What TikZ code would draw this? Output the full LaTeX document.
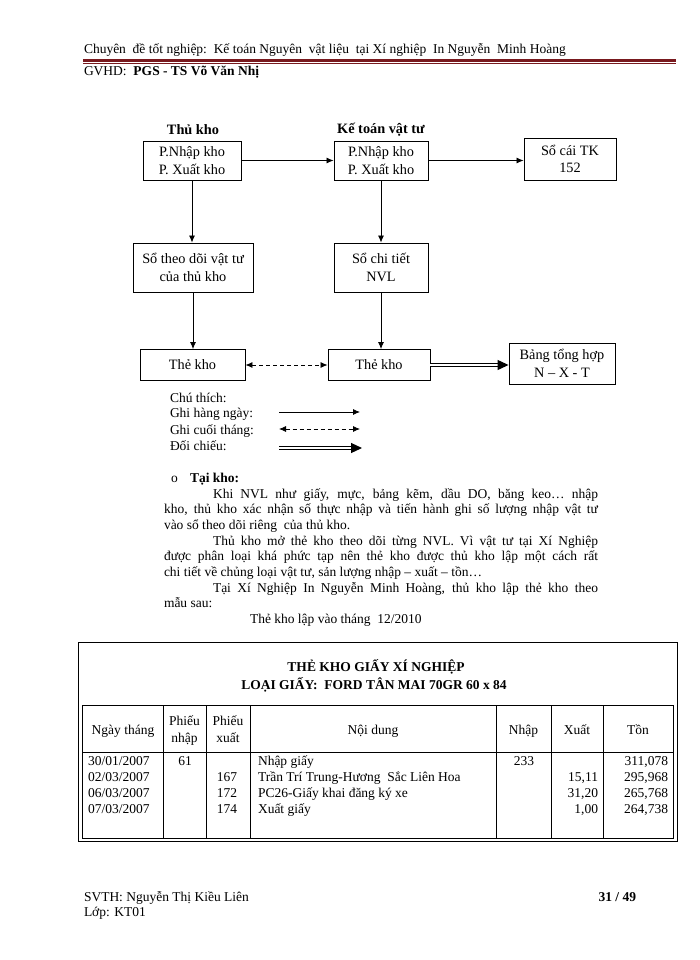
\documentclass[tikz,border=0pt]{standalone}
\usepackage{fontspec}
\setmainfont{Liberation Serif}
\usetikzlibrary{arrows.meta}
\definecolor{hdrred}{RGB}{120,25,30}
\tikzset{
  txt/.style={inner sep=0pt, outer sep=0pt},
  lbl/.style={txt, anchor=base west},
  rlbl/.style={txt, anchor=base east},
  cell/.style={txt, anchor=base},
  box/.style={draw, line width=0.9pt, align=center, inner sep=0pt, font=\fontsize{14.3}{17.5}\selectfont},
  conn/.style={line width=0.8pt, -{Latex[length=7pt,width=6pt]}},
  dconn/.style={line width=0.8pt, dash pattern=on 4pt off 3pt, {Latex[length=7pt,width=6pt]}-{Latex[length=7pt,width=6pt]}},
  tconn/.style={line width=1.2pt, double, double distance=1.1pt, -{Triangle[length=11pt,width=10pt]}},
  grid/.style={line width=0.8pt},
  bold/.style={font=\fontsize{13.5}{16}\selectfont\bfseries},
  dbold/.style={font=\fontsize{14.3}{17}\selectfont\bfseries},
}
\begin{document}
\begin{tikzpicture}[x=1pt,y=-1pt, font=\fontsize{13.5}{16}\selectfont]
\useasboundingbox (0,0) rectangle (700,960);
\fill[white] (0,0) rectangle (700,960);
% header
\node[lbl] (hdr) at (84,54) {Chuyên\ \ đề tốt nghiệp:\ \ Kế toán Nguyên\ \ vật liệu\ \ tại Xí nghiệp\ \ In Nguyễn\ \ Minh Hoàng};
\coordinate (hl1) at (83,60.5);
\coordinate (hr1) at (676,60.5);
\coordinate (hl2) at (83,63.6);
\coordinate (hr2) at (676,63.6);
\draw[hdrred, line width=2.6pt] (hl1) -- (hr1);
\draw[hdrred, line width=0.8pt] (hl2) -- (hr2);
\node[lbl] (gv) at (84,76) {GVHD:\ \ \textbf{PGS - TS Võ Văn Nhị}};
% diagram
\node[txt, dbold] (tk) at (193,130) {Thủ kho};
\node[txt, dbold] (kt) at (381,130) {Kế toán vật tư};
\node[box, minimum width=98pt, minimum height=39pt] (A) at (192,160.5) {P.Nhập kho\\P. Xuất kho};
\node[box, minimum width=94pt, minimum height=39pt] (B) at (381,160.5) {P.Nhập kho\\P. Xuất kho};
\node[box, minimum width=92pt, minimum height=42pt] (C) at (570,159) {Sổ cái TK\\152};
\node[box, minimum width=120pt, minimum height=49pt] (D) at (193,267.5) {Sổ theo dõi vật tư\\của thủ kho};
\node[box, minimum width=94pt, minimum height=49pt] (E) at (381,267.5) {Sổ chi tiết\\NVL};
\node[box, minimum width=105pt, minimum height=31pt] (F) at (192.5,365) {Thẻ kho};
\node[box, minimum width=102pt, minimum height=31pt] (G) at (379,365) {Thẻ kho};
\node[box, minimum width=106pt, minimum height=41pt] (H) at (562,363.5) {Bảng tổng hợp\\N – X - T};
\draw[conn] (A.east) -- (B.west);
\draw[conn] (B.east) -- (B.east -| C.west);
\draw[conn] (A.south) -- (A.south |- D.north);
\draw[conn] (D.south) -- (D.south |- F.north);
\draw[conn] (B.south) -- (E.north);
\draw[conn] (E.south) -- (E.south |- G.north);
\draw[dconn] (F.east) -- (G.west);
\draw[tconn] (G.east) -- (G.east -| H.west);
% legend
\node[lbl] (l0) at (170,402) {Chú thích:};
\node[lbl] (l1) at (170,417.5) {Ghi hàng ngày:};
\node[lbl] (l2) at (170,434) {Ghi cuối tháng:};
\node[lbl] (l3) at (170,450) {Đối chiếu:};
\coordinate (a1s) at (279,412); \coordinate (a1e) at (360,412);
\coordinate (a2s) at (279,429); \coordinate (a2e) at (360,429);
\coordinate (a3s) at (279,448); \coordinate (a3e) at (362,448);
\draw[conn] (a1s) -- (a1e);
\draw[dconn] (a2s) -- (a2e);
\draw[tconn] (a3s) -- (a3e);
% text
\node[lbl] (bul) at (171,482) {o};
\node[lbl, bold] (tai) at (190,482) {Tại kho:};
\node[lbl] (p1) at (213,498) {\makebox[385pt][s]{Khi NVL như giấy, mực, bảng kẽm, dầu DO, băng keo… nhập}};
\node[lbl] (p2) at (164,513.7) {\makebox[434pt][s]{kho, thủ kho xác nhận số thực nhập và tiến hành ghi số lượng nhập vật tư}};
\node[lbl] (p3) at (164,529.4) {vào sổ theo dõi riêng\ \ của thủ kho.};
\node[lbl] (p4) at (213,545.1) {\makebox[385pt][s]{Thủ kho mở thẻ kho theo dõi từng NVL. Vì vật tư tại Xí Nghiệp}};
\node[lbl] (p5) at (164,560.8) {\makebox[434pt][s]{được phân loại khá phức tạp nên thẻ kho được thủ kho lập một cách rất}};
\node[lbl] (p6) at (164,576.5) {chi tiết về chủng loại vật tư, sản lượng nhập – xuất – tồn…};
\node[lbl] (p7) at (213,592.2) {\makebox[385pt][s]{Tại Xí Nghiệp In Nguyễn Minh Hoàng, thủ kho lập thẻ kho theo}};
\node[lbl] (p8) at (164,607.9) {mẫu sau:};
\node[lbl] (p9) at (250,623.5) {Thẻ kho lập vào tháng\ \ 12/2010};
% table
\coordinate (fr1) at (78,642); \coordinate (fr2) at (677,841);
\draw[grid] (fr1) rectangle (fr2);
\node[txt, bold] (t1) at (376,667) {THẺ KHO GIẤY XÍ NGHIỆP};
\node[txt, bold] (t2) at (374,685) {LOẠI GIẤY:\ \ FORD TÂN MAI 70GR 60 x 84};
\coordinate (tb1) at (82,705); \coordinate (tb2) at (673,838);
\draw[grid] (tb1) rectangle (tb2);
\coordinate (hb1) at (82,752); \coordinate (hb2) at (673,752);
\draw[grid] (hb1) -- (hb2);
\foreach \cx/\nm in {163/c1,206/c2,250/c3,496/c4,551/c5,603/c6}{
  \coordinate (\nm t) at (\cx,705); \coordinate (\nm b) at (\cx,838);
  \draw[grid] (\nm t) -- (\nm b);
}
\node[cell] (h1) at (123,734) {Ngày tháng};
\node[cell] (h2a) at (184.5,725) {Phiếu};
\node[cell] (h2b) at (184.5,742) {nhập};
\node[cell] (h3a) at (228,725) {Phiếu};
\node[cell] (h3b) at (228,742) {xuất};
\node[cell] (h4) at (373,734) {Nội dung};
\node[cell] (h5) at (523.5,734) {Nhập};
\node[cell] (h6) at (577,734) {Xuất};
\node[cell] (h7) at (638,734) {Tồn};
% rows
\node[lbl] (d1) at (88,765) {30/01/2007};
\node[lbl] (d2) at (88,781) {02/03/2007};
\node[lbl] (d3) at (88,797) {06/03/2007};
\node[lbl] (d4) at (88,813) {07/03/2007};
\node[cell] (pn1) at (185,765) {61};
\node[cell] (px2) at (227,781) {167};
\node[cell] (px3) at (227,797) {172};
\node[cell] (px4) at (227,813) {174};
\node[lbl] (nd1) at (258,765) {Nhập giấy};
\node[lbl] (nd2) at (258,781) {Trần Trí Trung-Hương\ \ Sắc Liên Hoa};
\node[lbl] (nd3) at (258,797) {PC26-Giấy khai đăng ký xe};
\node[lbl] (nd4) at (258,813) {Xuất giấy};
\node[cell] (nn1) at (524,765) {233};
\node[rlbl] (xx2) at (598,781) {15,11};
\node[rlbl] (xx3) at (598,797) {31,20};
\node[rlbl] (xx4) at (598,813) {1,00};
\node[rlbl] (tt1) at (668,765) {311,078};
\node[rlbl] (tt2) at (668,781) {295,968};
\node[rlbl] (tt3) at (668,797) {265,768};
\node[rlbl] (tt4) at (668,813) {264,738};
% footer
\node[lbl] (f1) at (84,901) {SVTH: Nguyễn Thị Kiều Liên};
\node[lbl] (f2) at (84,916) {Lớp: KT01};
\node[rlbl, bold] (pg) at (636,901) {31 / 49};
\end{tikzpicture}
\end{document}
